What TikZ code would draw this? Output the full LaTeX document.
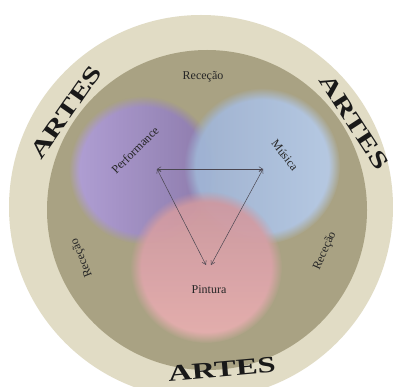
\documentclass[tikz,border=0pt]{standalone}
\usepackage{fontspec}
\setmainfont{Liberation Serif}
\usetikzlibrary{arrows.meta,positioning,fadings}
\definecolor{Beige}{HTML}{E1DCC5}
\definecolor{Olive}{HTML}{A9A283}
\definecolor{LilacL}{HTML}{B2A0DA}
\definecolor{LilacD}{HTML}{8A78AC}
\definecolor{BlueL}{HTML}{B8CCE8}
\definecolor{BlueD}{HTML}{9DB2D3}
\definecolor{RoseL}{HTML}{E8B0B0}
\definecolor{RoseD}{HTML}{CC97A0}
\definecolor{Ink}{HTML}{4A4650}

\begin{document}
\begin{tikzpicture}[x=1pt,y=-1pt,
    blob/.style={opacity=0.95,path fading=circle with fuzzy edge 15 percent},
    lbl/.style={font=\fontsize{12}{14}\selectfont,text=black!85,inner sep=1pt},
    arte/.style={font=\fontsize{23}{25}\selectfont\bfseries,text=black!90,xscale=1.42,inner sep=1pt},
    arrow/.style={{Straight Barb[length=1.3mm,width=1.6mm]}-{Straight Barb[length=1.3mm,width=1.6mm]},draw=Ink,line width=0.5pt}
]
\useasboundingbox (0,0) rectangle (393,387);
\fill[white] (0,0) rectangle (393,387);

% rings
\fill[Beige] (201,207) circle (192);
\fill[Olive] (207,210) circle (160);

% the three arts
\shade[blob,left color=LilacL,right color=LilacD] (143,170) circle (74);
\shade[blob,left color=BlueD,right color=BlueL] (262,166) circle (78);
\shade[blob,top color=RoseD,bottom color=RoseL] (206,267) circle (76);

% labels
\node[lbl] (rectop) at (203,77) {Receção};
\node[lbl,rotate=112] (recleft) at (82,258) {Receção};
\node[lbl,rotate=66] (recright) at (325,251) {Receção};
\node[lbl,rotate=45] (perf) at (135,150) {Performance};
\node[lbl,rotate=-52] (mus) at (285,155) {Música};
\node[lbl] (pint) at (209,290) {Pintura};

\node[rotate=55,arte] (artesl) at (66,112) {ARTES};
\node[rotate=-57,arte] (artesr) at (354,122) {ARTES};
\node[rotate=5,arte] (artesb) at (222,369) {ARTES};

% triangle
\coordinate (pa) at (157,169);
\coordinate (ma) at (263,169);
\coordinate (pb) at (206,265);
\coordinate (mb) at (211,265);
\draw[arrow] (pa) -- (ma);
\draw[arrow] (pa) -- (pb);
\draw[arrow] (ma) -- (mb);
\end{tikzpicture}
\end{document}
